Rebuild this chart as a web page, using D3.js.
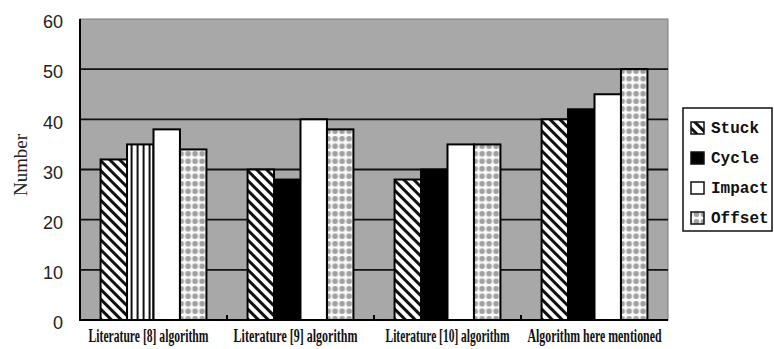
<!DOCTYPE html>
<html>
<head>
<meta charset="utf-8">
<script src="https://cdn.jsdelivr.net/npm/d3@7/dist/d3.min.js"></script>
<style>
  html, body { margin: 0; padding: 0; background: #fff; }
  svg { display: block; }
</style>
</head>
<body>
<script>
// Fault-detection counts per algorithm and fault type
const categories = [
  "Literature [8] algorithm",
  "Literature [9] algorithm",
  "Literature [10] algorithm",
  "Algorithm here mentioned"
];
const seriesNames = ["Stuck", "Cycle", "Impact", "Offset"];
const stuck  = [32, 30, 28, 40];
const cycle  = [35, 28, 30, 42];
const impact = [38, 40, 35, 45];
const offset = [34, 38, 35, 50];
const yTicks = [0, 10, 20, 30, 40, 50, 60];

const seriesValues = [stuck, cycle, impact, offset];

const W = 774, H = 349;
const plot = { left: 80, right: 668, top: 19, bottom: 320 };

const svg = d3.select("body").append("svg")
  .attr("width", W).attr("height", H);

// Fill patterns
const defs = svg.append("defs");

const diag = defs.append("pattern")
  .attr("id", "pat-stuck").attr("patternUnits", "userSpaceOnUse")
  .attr("width", 7).attr("height", 7)
  .attr("patternTransform", "rotate(45)");
diag.append("rect").attr("width", 7).attr("height", 7).attr("fill", "#fff");
diag.append("rect").attr("width", 7).attr("height", 3).attr("fill", "#111");

const vert = defs.append("pattern")
  .attr("id", "pat-vert").attr("patternUnits", "userSpaceOnUse")
  .attr("width", 6).attr("height", 6);
vert.append("rect").attr("width", 6).attr("height", 6).attr("fill", "#fff");
vert.append("rect").attr("x", 0).attr("width", 2).attr("height", 6).attr("fill", "#111");

const dots = defs.append("pattern")
  .attr("id", "pat-offset").attr("patternUnits", "userSpaceOnUse")
  .attr("width", 7).attr("height", 7.5);
dots.append("rect").attr("width", 7).attr("height", 7.5).attr("fill", "#fafafa");
dots.append("circle").attr("cx", 3.5).attr("cy", 3.75).attr("r", 2.8).attr("fill", "#a0a0a0");

const fills = ["url(#pat-stuck)", "#000", "#fff", "url(#pat-offset)"];

// Scales
const x0 = d3.scaleBand().domain(categories)
  .range([plot.left, plot.right]).paddingInner(0.28).paddingOuter(0.14);
const x1 = d3.scaleBand().domain(seriesNames).range([0, x0.bandwidth()]);
const y = d3.scaleLinear().domain([0, 60]).range([plot.bottom, plot.top]);

// Plot background
svg.append("rect")
  .attr("x", plot.left).attr("y", plot.top)
  .attr("width", plot.right - plot.left).attr("height", plot.bottom - plot.top)
  .attr("fill", "#a8a8a8").attr("stroke", "#7a7a7a").attr("stroke-width", 1);

// Gridlines
svg.append("g").selectAll("line")
  .data(yTicks.filter(v => v > 0 && v < 60))
  .join("line")
  .attr("x1", plot.left).attr("x2", plot.right)
  .attr("y1", d => y(d)).attr("y2", d => y(d))
  .attr("stroke", "#111").attr("stroke-width", 1.8);

// Bars
const rows = categories.map((c, i) => ({
  cat: c, idx: i,
  vals: seriesNames.map((s, j) => ({ series: s, j, v: seriesValues[j][i] }))
}));

const groups = svg.append("g").selectAll("g")
  .data(rows).join("g")
  .attr("transform", d => `translate(${x0(d.cat)},0)`);

groups.selectAll("rect")
  .data(d => d.vals.map(v => Object.assign({ idx: d.idx }, v)))
  .join("rect")
  .attr("x", d => x1(d.series))
  .attr("y", d => y(d.v))
  .attr("width", x1.bandwidth())
  .attr("height", d => y(0) - y(d.v))
  // the first group's Cycle bar is rendered with a vertical hatch
  .attr("fill", d => (d.idx === 0 && d.j === 1) ? "url(#pat-vert)" : fills[d.j])
  .attr("stroke", "#000").attr("stroke-width", 2);

// Category boundary ticks (inside the plot)
svg.append("g").selectAll("line")
  .data(categories.slice(1))
  .join("line")
  .attr("x1", d => x0(d) - x0.step() * x0.paddingInner() / 2)
  .attr("x2", d => x0(d) - x0.step() * x0.paddingInner() / 2)
  .attr("y1", plot.bottom).attr("y2", plot.bottom - 5)
  .attr("stroke", "#000").attr("stroke-width", 2);

// Axis lines
svg.append("line")
  .attr("x1", plot.left).attr("x2", plot.left)
  .attr("y1", plot.top).attr("y2", plot.bottom)
  .attr("stroke", "#000").attr("stroke-width", 2);
svg.append("line")
  .attr("x1", plot.left - 1).attr("x2", plot.right)
  .attr("y1", plot.bottom).attr("y2", plot.bottom)
  .attr("stroke", "#000").attr("stroke-width", 2);

// Y tick labels
svg.append("g").selectAll("text")
  .data(yTicks).join("text")
  .attr("x", 63).attr("y", d => y(d) + 3)
  .attr("dy", "0.35em")
  .attr("text-anchor", "end")
  .attr("font-family", "Liberation Sans, Arial, sans-serif")
  .attr("font-size", 18)
  .attr("fill", "#222")
  .text(d => d);

// Y axis title, narrow serif
const yTitle = svg.append("text")
  .attr("text-anchor", "middle")
  .attr("font-family", "Liberation Serif, Times New Roman, serif")
  .attr("font-size", 19)
  .attr("fill", "#222")
  .text("Number");
{
  const w = yTitle.node().getComputedTextLength();
  yTitle.attr("transform", `translate(27,165) rotate(-90) scale(${62 / w},1)`);
}

// Category labels: condensed bold serif
const labelWidths = [120, 124, 124, 134];
svg.append("g").selectAll("text")
  .data(categories).join("text")
  .attr("text-anchor", "middle")
  .attr("font-family", "Liberation Serif, Times New Roman, serif")
  .attr("font-weight", "bold")
  .attr("font-size", 19)
  .attr("fill", "#111")
  .text(d => d)
  .each(function (d, i) {
    const w = this.getComputedTextLength();
    const cx = x0(d) + x0.bandwidth() / 2 - (i < 2 ? 5 : 0);
    d3.select(this).attr("transform",
      `translate(${cx},342) scale(${labelWidths[i] / w},1)`);
  });

// Legend
const legend = svg.append("g");
legend.append("rect")
  .attr("x", 683).attr("y", 108).attr("width", 89).attr("height", 123)
  .attr("fill", "#fff").attr("stroke", "#111").attr("stroke-width", 1.5);

const legendY = d3.scalePoint().domain(seriesNames).range([128, 218]);
const items = legend.selectAll("g.item")
  .data(seriesNames).join("g").attr("class", "item")
  .attr("transform", d => `translate(0,${legendY(d)})`);
items.append("rect")
  .attr("x", 691).attr("y", -6).attr("width", 13).attr("height", 12)
  .attr("fill", (d, i) => fills[i])
  .attr("stroke", "#111").attr("stroke-width", 1.5);
items.append("text")
  .attr("x", 711).attr("y", 5)
  .attr("font-family", "Liberation Mono, Courier New, monospace")
  .attr("font-size", 16)
  .attr("font-weight", "bold")
  .attr("fill", "#111")
  .text(d => d);
</script>
</body>
</html>
